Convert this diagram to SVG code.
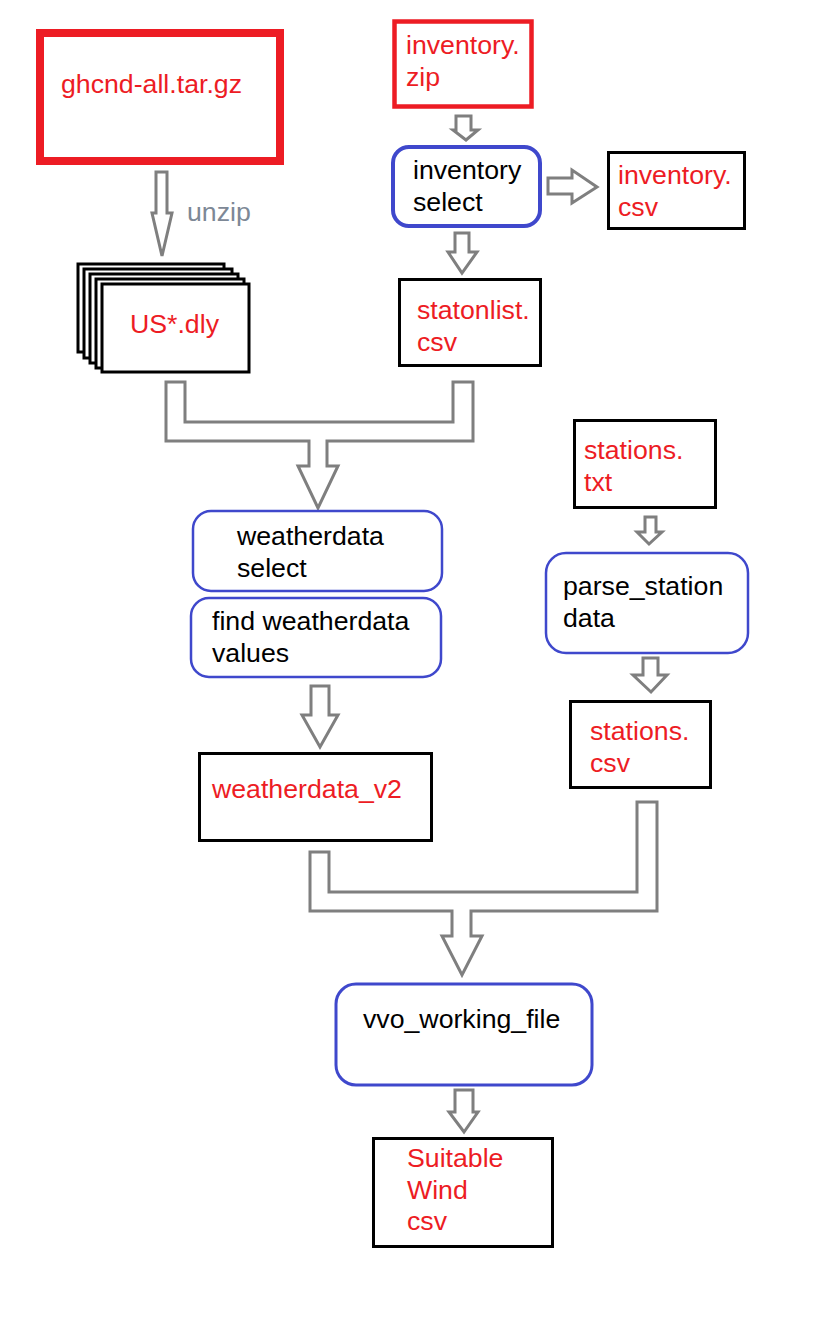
<svg xmlns="http://www.w3.org/2000/svg" width="816" height="1344" viewBox="0 0 816 1344">
<style>
text{font-family:"Liberation Sans",Arial,sans-serif;font-size:26.7px}
.r{fill:#ed1c24}
.k{fill:#000}
.g{fill:#7d8896}
.file{fill:#fff;stroke:#000;stroke-width:3}
.src{fill:#fff;stroke:#ed1c24}
.proc{fill:#fff;stroke:#3f48cc}
.arr{fill:#fff;stroke:#7f7f7f;stroke-width:3;stroke-linejoin:miter}
</style>
<rect width="816" height="1344" fill="#fff"/>
<g id="connectors">
<polygon class="arr" points="156,172 167,172 167,213 172,213 162,256 152,213 156,213"/>
<polygon class="arr" points="456,116 471,116 471,130 478,130 466,140 453,130 456,130"/>
<polygon class="arr" points="548,178 572,178 572,170 597,187 572,203 572,194 548,194"/>
<polygon class="arr" points="455,233 469,233 469,252 477,252 462,273 448,252 455,252"/>
<polygon class="arr" points="166,382 185,382 185,422 453,422 453,382 473,382 473,441 327,441 327,466 338,466 318,508 298,466 309,466 309,441 166,441"/>
<polygon class="arr" points="311,686 329,686 329,715 338,715 320,747 302,715 311,715"/>
<polygon class="arr" points="645,517 656,517 656,532 662,532 649,544 637,532 645,532"/>
<polygon class="arr" points="643,658 658,658 658,675 667,675 651,692 633,675 643,675"/>
<polygon class="arr" points="310,852 329,852 329,892 637,892 637,802 657,802 657,911 471,911 471,936 482,936 462,975 442,936 452,936 452,911 310,911"/>
<polygon class="arr" points="455,1090 473,1090 473,1112 478,1112 464,1132 449,1112 455,1112"/>
<text class="g" x="187" y="221">unzip</text>
</g>
<g id="ghcnd">
<rect class="src" x="40" y="33" width="240" height="128" stroke-width="8"/>
<text class="r" x="61" y="93">ghcnd-all.tar.gz</text>
</g>
<g id="us-dly">
<rect class="file" x="78" y="264" width="146" height="88"/>
<rect class="file" x="84" y="269" width="148" height="89"/>
<rect class="file" x="90" y="274" width="148" height="89"/>
<rect class="file" x="96" y="279" width="148" height="89"/>
<rect class="file" x="102" y="284" width="147" height="88"/>
<text class="r" x="130" y="333">US*.dly</text>
</g>
<g id="inventory-zip">
<rect class="src" x="394.5" y="21.5" width="137" height="85" stroke-width="4.5"/>
<text class="r" x="406" y="54">inventory.</text>
<text class="r" x="406" y="86">zip</text>
</g>
<g id="inventory-select">
<rect class="proc" x="393" y="147" width="147" height="79" rx="16" style="stroke-width:4"/>
<text class="k" x="413" y="179">inventory</text>
<text class="k" x="413" y="211">select</text>
</g>
<g id="inventory-csv">
<rect class="file" x="608.5" y="152.5" width="136" height="76"/>
<text class="r" x="618" y="184">inventory.</text>
<text class="r" x="618" y="216">csv</text>
</g>
<g id="statonlist-csv">
<rect class="file" x="399.5" y="279.5" width="141" height="86"/>
<text class="r" x="417" y="319">statonlist.</text>
<text class="r" x="417" y="351">csv</text>
</g>
<g id="weatherdata-select">
<rect class="proc" x="193" y="511" width="249" height="80" rx="18" style="stroke-width:2.5"/>
<text class="k" x="237" y="545">weatherdata</text>
<text class="k" x="237" y="577">select</text>
</g>
<g id="find-weatherdata-values">
<rect class="proc" x="191" y="598" width="250" height="79" rx="18" style="stroke-width:2.5"/>
<text class="k" x="212" y="630">find weatherdata</text>
<text class="k" x="212" y="662">values</text>
</g>
<g id="weatherdata-v2">
<rect class="file" x="199.5" y="753.5" width="232" height="87"/>
<text class="r" x="212" y="798">weatherdata_v2</text>
</g>
<g id="stations-txt">
<rect class="file" x="574.5" y="420.5" width="141" height="87"/>
<text class="r" x="584" y="459">stations.</text>
<text class="r" x="584" y="491">txt</text>
</g>
<g id="parse-station-data">
<rect class="proc" x="546" y="553" width="202" height="100" rx="20" style="stroke-width:2.5"/>
<text class="k" x="563" y="595">parse_station</text>
<text class="k" x="563" y="627">data</text>
</g>
<g id="stations-csv">
<rect class="file" x="570.5" y="701.5" width="140" height="86"/>
<text class="r" x="590" y="740">stations.</text>
<text class="r" x="590" y="772">csv</text>
</g>
<g id="vvo-working-file">
<rect class="proc" x="336" y="984" width="256" height="101" rx="20" style="stroke-width:3"/>
<text class="k" x="363" y="1028">vvo_working_file</text>
</g>
<g id="suitable-wind-csv">
<rect class="file" x="373.5" y="1138.5" width="179" height="108"/>
<text class="r" x="407" y="1167">Suitable</text>
<text class="r" x="407" y="1199">Wind</text>
<text class="r" x="407" y="1230">csv</text>
</g>
</svg>
